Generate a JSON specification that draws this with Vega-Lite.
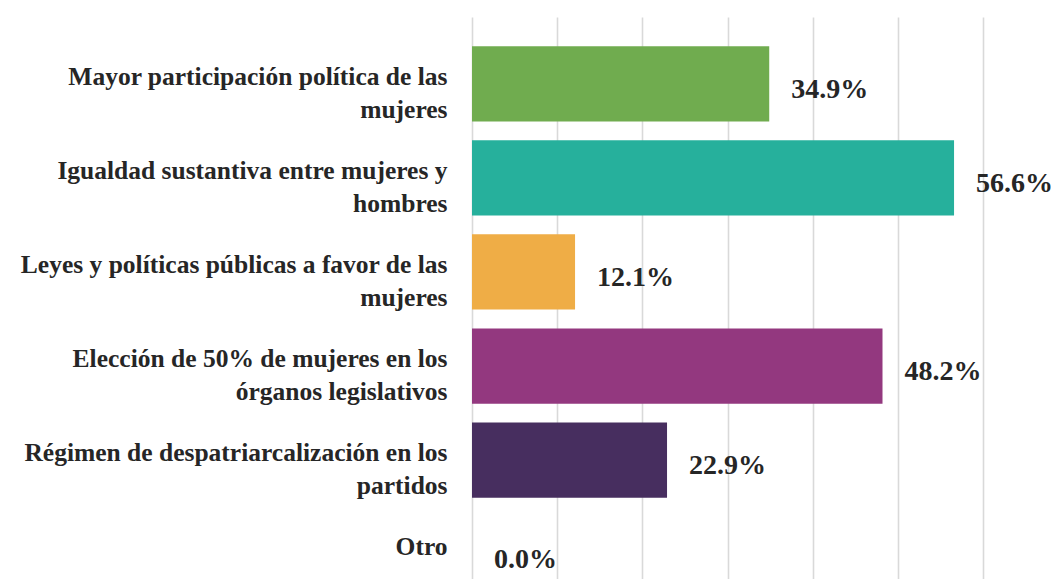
{
  "$schema": "https://vega.github.io/schema/vega-lite/v6.json",
  "autosize": {"type": "none"},
  "padding": {"left": 472, "top": 17, "right": 79, "bottom": 0},
  "width": 511,
  "height": 604,
  "background": "white",
  "config": {"view": {"stroke": null}},
  "data": {
    "values": [
      {"cat": "Mayor participación política de las|mujeres", "value": 0.349},
      {"cat": "Igualdad sustantiva entre mujeres y|hombres", "value": 0.566},
      {"cat": "Leyes y políticas públicas a favor de las|mujeres", "value": 0.121},
      {"cat": "Elección de 50% de mujeres en los|órganos legislativos", "value": 0.482},
      {"cat": "Régimen de despatriarcalización en los|partidos", "value": 0.229},
      {"cat": "Otro", "value": 0.0}
    ]
  },
  "encoding": {
    "y": {
      "field": "cat",
      "type": "nominal",
      "sort": null,
      "scale": {"paddingInner": 0.2, "paddingOuter": 0.31},
      "axis": {
        "title": null,
        "domain": false,
        "ticks": false,
        "labelPadding": 25,
        "labelFont": "Times New Roman, serif",
        "labelFontWeight": "bold",
        "labelFontSize": 25.5,
        "labelColor": "#262626",
        "labelLineHeight": 33,
        "labelOffset": -7,
        "labelLimit": 500,
        "labelExpr": "split(datum.label, '|')"
      }
    },
    "x": {
      "field": "value",
      "type": "quantitative",
      "scale": {"domain": [0, 0.6], "nice": false},
      "axis": {
        "title": null,
        "labels": false,
        "ticks": false,
        "domain": false,
        "grid": true,
        "gridColor": "#d9d9d9",
        "gridWidth": 1.6,
        "values": [0, 0.1, 0.2, 0.3, 0.4, 0.5, 0.6]
      }
    }
  },
  "layer": [
    {
      "mark": {"type": "bar"},
      "encoding": {
        "color": {
          "field": "cat",
          "type": "nominal",
          "legend": null,
          "scale": {
            "domain": [
              "Mayor participación política de las|mujeres",
              "Igualdad sustantiva entre mujeres y|hombres",
              "Leyes y políticas públicas a favor de las|mujeres",
              "Elección de 50% de mujeres en los|órganos legislativos",
              "Régimen de despatriarcalización en los|partidos",
              "Otro"
            ],
            "range": ["#70ac4f", "#26b09c", "#efad46", "#93387f", "#472e5f", "#888888"]
          }
        }
      }
    },
    {
      "mark": {
        "type": "text",
        "align": "left",
        "baseline": "middle",
        "dx": 22,
        "dy": 6,
        "font": "Times New Roman, serif",
        "fontWeight": "bold",
        "fontSize": 28,
        "color": "#262626"
      },
      "encoding": {
        "text": {"field": "value", "type": "quantitative", "format": ".1%"}
      }
    }
  ]
}
